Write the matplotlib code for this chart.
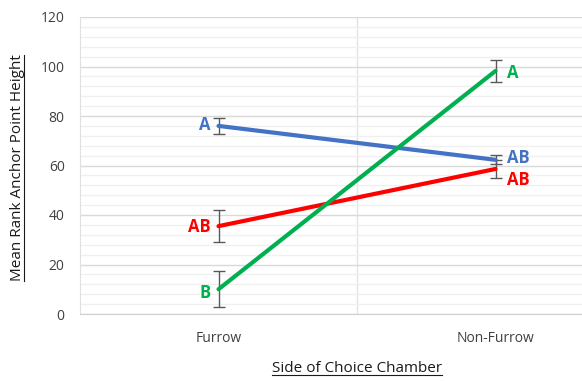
import matplotlib
matplotlib.use('Agg')
import matplotlib.pyplot as plt
from matplotlib.lines import Line2D
import numpy as np

# data
sides = ['Furrow', 'Non-Furrow']
blue_vals = [76, 62.3]
blue_err = [3.2, 1.8]
red_vals = [35.5, 58.6]
red_err = [6.5, 3.8]
green_vals = [10, 98.2]
green_err = [7.3, 4.4]

blue_labels = ['A', 'AB']
red_labels = ['AB', 'AB']
green_labels = ['B', 'A']

plt.rcParams['font.family'] = ['Open Sans', 'DejaVu Sans']

fig = plt.figure(figsize=(5.82, 3.81), dpi=100)
# chart is cropped on the right in the reference, so the axes run past the figure edge
ax = fig.add_axes([80 / 582, 67 / 381, 554 / 582, 297 / 381])

x = np.arange(len(sides)) + 0.5
ax.set_xlim(0, 2)
ax.set_ylim(0, 120)

# gridlines
ax.set_yticks(np.arange(0, 121, 20))
ax.set_yticks(np.arange(0, 121, 4), minor=True)
ax.grid(axis='y', which='major', color='#d9d9d9', lw=1)
ax.grid(axis='y', which='minor', color='#f0f0f0', lw=1)
ax.axvline(1, color='#e3e3e3', lw=1, zorder=0)
ax.set_axisbelow(True)
for s in ['top', 'right']:
    ax.spines[s].set_visible(False)
ax.spines['left'].set_color('#e0e0e0')
ax.spines['bottom'].set_color('#d0d0d0')

series = [
    (blue_vals, blue_err, '#4472C4'),
    (red_vals, red_err, '#FF0000'),
    (green_vals, green_err, '#00B050'),
]
for vals, err, col in series:
    ax.plot(x, vals, color=col, lw=3, zorder=3, solid_capstyle='round')
    ax.errorbar(x, vals, yerr=err, fmt='none', ecolor='#595959',
                elinewidth=1, capsize=4, capthick=1, zorder=2)

# significance letters
lab = dict(fontsize=12, fontweight='bold', va='center')
ax.text(x[0] - 0.03, blue_vals[0] + 0.3, blue_labels[0], color='#4472C4', ha='right', **lab)
ax.text(x[0] - 0.03, red_vals[0] - 0.5, red_labels[0], color='#FF0000', ha='right', **lab)
ax.text(x[0] - 0.03, green_vals[0] - 1.5, green_labels[0], color='#00B050', ha='right', **lab)
ax.text(x[1] + 0.04, green_vals[1] - 1, green_labels[1], color='#00B050', ha='left', **lab)
ax.text(x[1] + 0.04, blue_vals[1] + 0.8, blue_labels[1], color='#4472C4', ha='left', **lab)
ax.text(x[1] + 0.04, red_vals[1] - 4.5, red_labels[1], color='#FF0000', ha='left', **lab)

ax.set_xticks(x)
ax.set_xticklabels(sides)
ax.tick_params(axis='both', which='both', length=0, labelcolor='#404040', labelsize=10)
ax.tick_params(axis='x', pad=12)
ax.tick_params(axis='y', pad=11)

# axis titles (underlined)
xt = fig.text(357 / 582, 1 - 369 / 381, 'Side of Choice Chamber', fontsize=11,
              ha='center', va='center', color='#1a1a1a')
yt = fig.text(18 / 582, 1 - 168 / 381, 'Mean Rank Anchor Point Height', fontsize=11,
              ha='center', va='center', rotation=90, color='#1a1a1a')
fig.canvas.draw()
r = fig.canvas.get_renderer()
bb = xt.get_window_extent(r).transformed(fig.transFigure.inverted())
fig.add_artist(Line2D([bb.x0, bb.x1], [bb.y0 + 0.004, bb.y0 + 0.004],
                      transform=fig.transFigure, color='#1a1a1a', lw=0.8))
bb = yt.get_window_extent(r).transformed(fig.transFigure.inverted())
fig.add_artist(Line2D([bb.x1 - 0.002, bb.x1 - 0.002], [bb.y0, bb.y1],
                      transform=fig.transFigure, color='#1a1a1a', lw=0.8))

fig.savefig('out.png', dpi=100)
